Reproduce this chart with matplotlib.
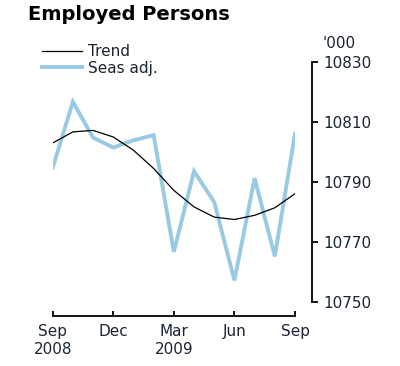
import matplotlib
matplotlib.use("Agg")
import matplotlib.pyplot as plt

months = ["Sep 2008", "Oct", "Nov", "Dec", "Jan 2009", "Feb", "Mar", "Apr", "May", "Jun", "Jul", "Aug", "Sep 2009"]
seas_adj = [10794.8, 10816.7, 10804.8, 10801.5, 10803.9, 10805.6, 10766.7, 10793.6, 10783.3, 10757.2, 10791.3, 10765.2, 10806.1]
trend = [10803.0, 10806.7, 10807.2, 10805.0, 10800.6, 10794.5, 10787.2, 10781.7, 10778.3, 10777.5, 10778.9, 10781.4, 10786.1]
xtick_pos = [0, 3, 6, 9, 12]
xtick_labels = ["Sep\n2008", "Dec", "Mar\n2009", "Jun", "Sep"]
yticks = [10750, 10770, 10790, 10810, 10830]

txt = "#1a2533"
plt.rcParams['font.family'] = ['DejaVu Sans']

fig = plt.figure(figsize=(4.0, 3.66), dpi=100)
ax = fig.add_axes([52.7/400, (366-302)/366, (295-52.7)/400, 240/366])

x = list(range(len(months)))
ax.plot(x, trend, color="black", lw=0.9, label="Trend", zorder=3)
ax.plot(x, seas_adj, color="#98cae3", lw=2.8, label="Seas adj.", zorder=2, solid_joinstyle='miter')

ax.set_xlim(0, 12)
ax.set_ylim(10750, 10830)

for s in ["left", "top"]:
    ax.spines[s].set_visible(False)
ax.spines["right"].set_position(("outward", 12))
ax.spines["bottom"].set_position(("outward", 10))
ax.spines["right"].set_bounds(10750, 10830)
ax.spines["bottom"].set_bounds(0, 12)
for s in ["right", "bottom"]:
    ax.spines[s].set_linewidth(1.4)
    ax.spines[s].set_color("#111111")

ax.yaxis.tick_right()
ax.set_yticks(yticks)
ax.set_yticklabels([str(v) for v in yticks])
ax.set_xticks(xtick_pos)
ax.set_xticklabels(xtick_labels, linespacing=1.25)
ax.tick_params(axis="y", direction="out", length=4.5, width=1.4, pad=4, labelsize=11, labelcolor=txt, color="#111111")
ax.tick_params(axis="x", direction="in", length=3.6, width=1.4, pad=6, labelsize=11, labelcolor=txt, color="#111111")

fig.text(28/400, 1-14/366, "Employed Persons", fontsize=14, fontweight="heavy", color="black", va="center", ha="left")
fig.text(323/400, 1-43/366, "'000", fontsize=11, color=txt, va="center", ha="left")

leg = ax.legend(loc="upper left", bbox_to_anchor=(42/400, 1-44/366), bbox_transform=fig.transFigure,
                frameon=False, handlelength=2.6, handletextpad=0.4, labelspacing=0.1,
                borderpad=0, borderaxespad=0, fontsize=11)
for t in leg.get_texts():
    t.set_color(txt)

fig.savefig("out.png", dpi=100)
